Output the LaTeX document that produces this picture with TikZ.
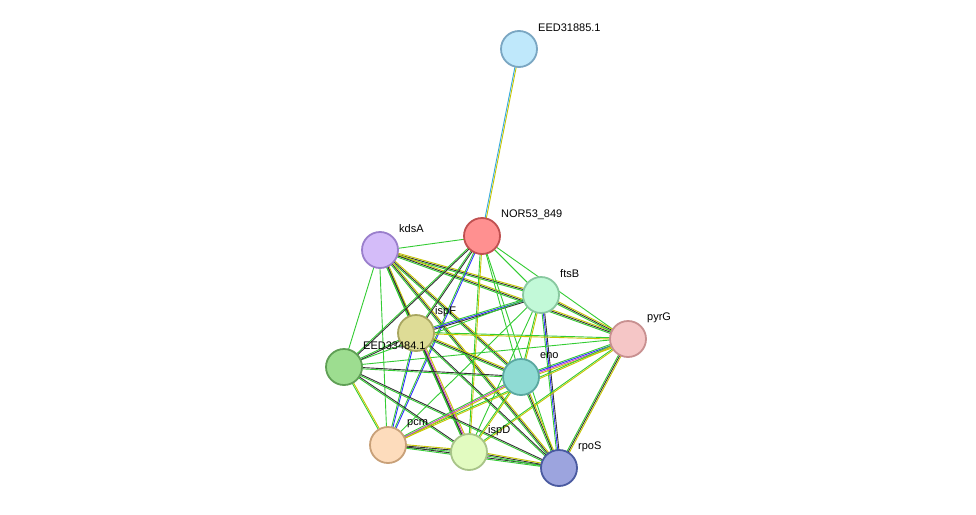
\documentclass[tikz,border=0pt]{standalone}
\usepackage{fontspec}
\setmainfont{Liberation Sans}
\usetikzlibrary{calc}
\definecolor{sgreen}{HTML}{33CC33}
\definecolor{syellow}{HTML}{C6C600}
\definecolor{sblack}{HTML}{333333}
\definecolor{sblue}{HTML}{3333FF}
\definecolor{smag}{HTML}{CC44CC}
\definecolor{scyan}{HTML}{33AADD}
\begin{document}
\begin{tikzpicture}[x=1pt,y=-1pt,
  prot/.style={circle,minimum size=36pt,inner sep=0pt,line width=1.8pt},
  lab/.style={anchor=west,font=\fontsize{11}{12}\selectfont,inner sep=0pt}]
\useasboundingbox (0,0) rectangle (976,514);
\fill[white] (0,0) rectangle (976,514);
\foreach \n/\x/\y in {E31/519/49,N/482/236,kdsA/380/250,ftsB/541/295,pyrG/628/339,ispF/416/333,E33/344/367,eno/521/377,pcm/388/445,ispD/469/452,rpoS/559/468}
  \coordinate (\n) at (\x,\y);
\foreach \a/\b/\cl in {
N/E31/{syellow,scyan},
kdsA/N/{sgreen},
kdsA/ftsB/{sgreen,sblack,syellow},
kdsA/pyrG/{sgreen,sblack,syellow},
kdsA/ispF/{sgreen,sblack,syellow},
kdsA/E33/{sgreen},
kdsA/eno/{sgreen,sblack,syellow},
kdsA/pcm/{sgreen},
kdsA/ispD/{sgreen,sblack},
kdsA/rpoS/{sgreen,sblack,syellow},
N/ftsB/{sgreen},
N/pyrG/{sgreen},
N/ispF/{sgreen,sblack},
N/E33/{sgreen,sblack},
N/eno/{sgreen},
N/pcm/{sgreen,sblue},
N/ispD/{sgreen,syellow},
N/rpoS/{sgreen},
ftsB/pyrG/{sgreen,sblack,syellow},
ftsB/ispF/{sgreen,sblue,sblack},
ftsB/E33/{sgreen},
ftsB/eno/{sgreen,syellow},
ftsB/pcm/{sgreen},
ftsB/ispD/{sgreen},
ftsB/rpoS/{sgreen,sblue,sblack},
pyrG/ispF/{sgreen,syellow},
pyrG/E33/{sgreen},
pyrG/eno/{sgreen,sblue,smag,syellow},
pyrG/pcm/{sgreen,syellow},
pyrG/ispD/{sgreen,syellow},
pyrG/rpoS/{sgreen,sblack,syellow},
ispF/E33/{sgreen,sblack},
ispF/eno/{sgreen,sblack,syellow},
ispF/pcm/{sgreen,sblue},
ispF/ispD/{sgreen,sblack,smag,syellow},
ispF/rpoS/{sgreen,sblack},
E33/eno/{sgreen,sblack},
E33/pcm/{sgreen,syellow},
E33/ispD/{sgreen,sblack},
E33/rpoS/{sgreen,sblack},
eno/pcm/{sgreen,smag,syellow},
eno/ispD/{sgreen,syellow},
eno/rpoS/{sgreen,sblack,syellow},
pcm/ispD/{sgreen,sblack,syellow},
pcm/rpoS/{sgreen,sblack},
ispD/rpoS/{sgreen,sblack,syellow}}
{
  \foreach \c [count=\i] in \cl {
    \pgfmathsetmacro{\k}{(\i-1)*1.3-0.8}
    \draw[\c,line width=0.9pt] ($(\a)!\k pt!90:(\b)$) -- ($(\b)!\k pt!-90:(\a)$);
  }
}
\foreach \n/\f/\s/\t in {
E31/BFE8FB/7AA6C2/EED31885.1,
N/FF9090/C05050/NOR53\_849,
kdsA/D4BCF9/9A7FCC/kdsA,
ftsB/C2F9D8/88C8A0/ftsB,
pyrG/F5C6C6/C89090/pyrG,
ispF/DEDC96/A8A660/ispF,
E33/9DDD90/5F9F55/EED33484.1,
eno/8FDBD4/5AA8A0/eno,
pcm/FDDCBC/C8A078/pcm,
ispD/E2FBC0/A8C488/ispD,
rpoS/9CA4DE/4A5AA0/rpoS}
{
  \definecolor{fc}{HTML}{\f}\definecolor{sc}{HTML}{\s}
  \node[prot,fill=fc,draw=sc] (n\n) at (\n) {};
  \node[lab] (l\n) at ($(\n)+(19,-21)$) {\t};
}
\end{tikzpicture}
\end{document}
